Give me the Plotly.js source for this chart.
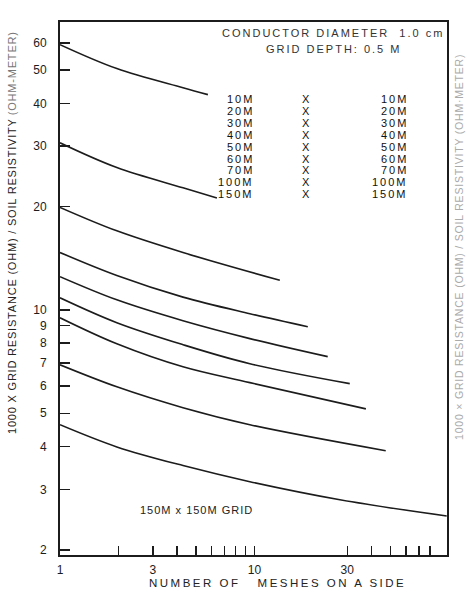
<!DOCTYPE html>
<html><head><meta charset="utf-8">
<script src="https://cdn.plot.ly/plotly-3.0.1.min.js"></script>
<style>html,body{margin:0;padding:0;background:#fff;}#chart{width:467px;height:600px;}</style>
</head><body><div id="chart"></div>
<script>
// Grid sizes (one curve per square grid)
const gridNames = ['10M','20M','30M','40M','50M','60M','70M','100M','150M'];

// Number of meshes on a side (x) and 1000 x R / rho (y)
const meshes_10M  = [1, 1.96, 4.29, 5.76];
const ratio_10M   = [59.3, 50.5, 44.4, 42.4];
const meshes_20M  = [1, 1.96, 4.29, 6.41];
const ratio_20M   = [30.7, 26.0, 22.7, 21.2];
const meshes_30M  = [1, 1.96, 4.29, 13.5];
const ratio_30M   = [19.9, 17.0, 14.7, 12.2];
const meshes_40M  = [1, 1.96, 4.29, 9.47, 18.8];
const ratio_40M   = [14.7, 12.6, 10.9, 9.75, 8.93];
const meshes_50M  = [1, 1.96, 4.29, 9.47, 23.8];
const ratio_50M   = [12.5, 10.7, 9.30, 8.25, 7.31];
const meshes_60M  = [1, 1.96, 4.29, 9.47, 30.9];
const ratio_60M   = [10.85, 9.18, 7.92, 6.97, 6.10];
const meshes_70M  = [1, 1.96, 4.29, 9.47, 37.4];
const ratio_70M   = [9.49, 7.97, 6.83, 6.14, 5.15];
const meshes_100M = [1, 1.96, 4.29, 9.47, 47.3];
const ratio_100M  = [6.92, 5.97, 5.19, 4.63, 3.89];
const meshes_150M = [1, 1.96, 4.29, 9.47, 27.5, 97.4];
const ratio_150M  = [4.63, 3.99, 3.52, 3.16, 2.80, 2.51];

// Axis ticks
const xTickVals = [1,2,3,4,5,6,7,8,9,10,30,40,50,60,70,80];
const xTickText = ['1','','3','','','','','','','10','30','','','','',''];
const yTickVals = [2,3,4,5,6,7,8,9,10,20,30,40,50,60];
const yTickText = ['2','3','4','5','6','7','8','9','10','20','30','40','50','60'];

// Text
const headerLine1 = 'CONDUCTOR DIAMETER&nbsp; 1.0 cm';
const headerLine2 = 'GRID DEPTH: 0.5 M';
const gridNote = '150M x 150M GRID';
const xTitle = 'NUMBER OF&nbsp;&nbsp;&nbsp;MESHES ON A SIDE';
const yTitleMain = '1000 X GRID RESISTANCE (OHM) / SOIL RESISTIVITY';
const yTitleUnit = '(OHM-METER)';
const ghostTitle = '1000 × GRID RESISTANCE (OHM) / SOIL RESISTIVITY (OHM·METER)';

const seriesX = [meshes_10M, meshes_20M, meshes_30M, meshes_40M, meshes_50M, meshes_60M, meshes_70M, meshes_100M, meshes_150M];
const seriesY = [ratio_10M, ratio_20M, ratio_30M, ratio_40M, ratio_50M, ratio_60M, ratio_70M, ratio_100M, ratio_150M];

const ink = '#1c1c1c';
const FONT = 'Liberation Sans, Arial, sans-serif';

const traces = gridNames.map((name, i) => ({
  type: 'scatter', mode: 'lines', name: name + ' x ' + name,
  x: seriesX[i], y: seriesY[i],
  line: {color: ink, width: 1.6, shape: 'spline', smoothing: 1},
  showlegend: false, hoverinfo: 'skip'
}));

// plot area in pixels: left 60, right 447, top 22, bottom 555
const L = 60, R = 447, T = 22, B = 555;
const px = v => (v - L) / (R - L);
const py = v => (B - v) / (B - T);
const sp = (s, ls) => '<span style="letter-spacing:' + ls + 'px">' + s + '</span>';

const annotations = [
  {text: sp(headerLine1, 2), x: px(446), y: py(33), xanchor: 'right', yanchor: 'middle', font: {size: 11, color: '#333'}},
  {text: sp(headerLine2, 2), x: px(333), y: py(49), xanchor: 'center', yanchor: 'middle', font: {size: 11, color: '#333'}},
  {text: sp(gridNote, 1), x: px(138), y: py(510), xanchor: 'left', yanchor: 'middle', font: {size: 11, color: '#222'}},
  {text: sp(xTitle, 2.5), x: px(277), y: py(583), xanchor: 'center', yanchor: 'middle', font: {size: 11.5, color: '#222'}},
  {text: sp(yTitleMain, 0.8) + ' <span style="letter-spacing:0.8px;fill:#777">' + yTitleUnit + '</span>', x: px(12), y: py(233), textangle: -90, xanchor: 'center', yanchor: 'middle', font: {size: 11, color: '#222'}},
  {text: sp(ghostTitle, 0.8), x: px(459), y: py(247), textangle: -90, xanchor: 'center', yanchor: 'middle', font: {size: 10.5, color: '#aaa'}}
];
gridNames.forEach((name, i) => {
  const yy = py(99 + 11.9 * i);
  annotations.push({text: sp(name, 2), x: px(256), y: yy, xanchor: 'right', yanchor: 'middle', font: {size: 11, color: '#111'}});
  annotations.push({text: 'X', x: px(306), y: yy, xanchor: 'center', yanchor: 'middle', font: {size: 11, color: '#111'}});
  annotations.push({text: sp(name, 2), x: px(410), y: yy, xanchor: 'right', yanchor: 'middle', font: {size: 11, color: '#111'}});
});
annotations.forEach(a => { a.xref = 'paper'; a.yref = 'paper'; a.showarrow = false; });

const layout = {
  width: 467, height: 600,
  margin: {l: L, r: 467 - R, t: T, b: 600 - B, pad: 0},
  paper_bgcolor: '#fff', plot_bgcolor: '#fff',
  font: {family: FONT, size: 11, color: ink},
  xaxis: {
    type: 'log', range: [0, 1.99], showgrid: false, zeroline: false,
    showline: true, mirror: true, linecolor: ink, linewidth: 2,
    ticks: 'inside', ticklen: 9, tickwidth: 1.5, tickcolor: ink,
    tickmode: 'array', tickvals: xTickVals, ticktext: xTickText,
    tickfont: {family: FONT, size: 12, color: ink}, ticklabelstandoff: 3
  },
  yaxis: {
    type: 'log', range: [0.286, 1.839], showgrid: false, zeroline: false,
    showline: true, mirror: true, linecolor: ink, linewidth: 2,
    ticks: 'inside', ticklen: 10, tickwidth: 1.5, tickcolor: ink,
    tickmode: 'array', tickvals: yTickVals, ticktext: yTickText,
    tickfont: {family: FONT, size: 12, color: ink}, ticklabelstandoff: 9
  },
  annotations: annotations,
  showlegend: false
};

Plotly.newPlot('chart', traces, layout, {displayModeBar: false, staticPlot: true});
</script>
</body></html>
